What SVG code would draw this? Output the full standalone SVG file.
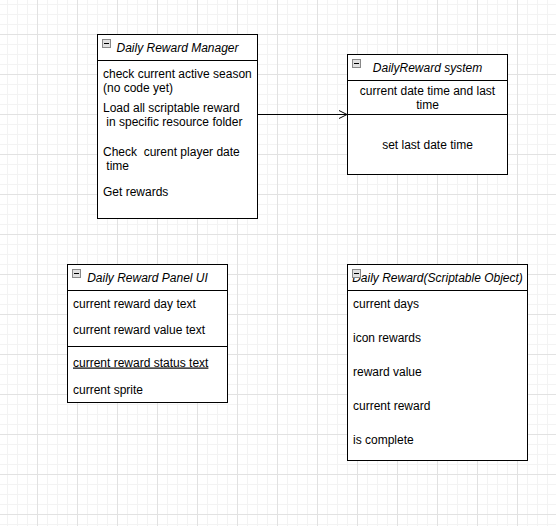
<svg xmlns="http://www.w3.org/2000/svg" width="556" height="526" viewBox="0 0 556 526">
<defs>
<pattern id="minor" patternUnits="userSpaceOnUse" x="7" y="4" width="10" height="10">
<rect x="0" y="0" width="1" height="10" fill="#f3f3f3"/>
<rect x="0" y="0" width="10" height="1" fill="#f3f3f3"/>
</pattern>
<pattern id="major" patternUnits="userSpaceOnUse" x="37" y="34" width="40" height="40">
<rect x="0" y="0" width="1" height="40" fill="#e2e2e2"/>
<rect x="0" y="0" width="40" height="1" fill="#e2e2e2"/>
</pattern>
<marker id="open" markerUnits="userSpaceOnUse" markerWidth="12" markerHeight="12" refX="9" refY="5" orient="auto" viewBox="0 0 12 10">
<path d="M1,1 L9,5 L1,9" fill="none" stroke="#000" stroke-width="1"/>
</marker>
<g id="icon">
<rect x="0.5" y="0.5" width="8" height="8" fill="#e0e0e0" stroke="#888"/>
<line x1="2" y1="4.5" x2="7" y2="4.5" stroke="#000" stroke-width="1"/>
</g>
</defs>
<style>
.box{fill:#fff;stroke:#000;stroke-width:1}
.div{stroke:#000;stroke-width:1}
text{font-family:"Liberation Sans",Arial,sans-serif;font-size:12px;fill:#000}
.hd{font-style:italic;text-anchor:middle}
.c{text-anchor:middle}
</style>
<rect width="556" height="526" fill="#fff"/>
<rect width="556" height="526" fill="url(#minor)"/>
<rect width="556" height="526" fill="url(#major)"/>

<g id="connectors">
<line x1="257.5" y1="114.5" x2="347" y2="114.5" stroke="#000" stroke-width="1" marker-end="url(#open)"/>
</g>

<g id="manager">
<rect class="box" x="97.5" y="34.5" width="160" height="184"/>
<line class="div" x1="97.5" y1="60.5" x2="257.5" y2="60.5"/>
<use href="#icon" x="102" y="39"/>
<text class="hd" x="177.5" y="51.5">Daily Reward Manager</text>
<text x="103" y="77.5" xml:space="preserve">check current active season</text>
<text x="103" y="91.5" xml:space="preserve">(no code yet)</text>
<text x="103" y="112" xml:space="preserve">Load all scriptable reward</text>
<text x="103" y="126" xml:space="preserve"> in specific resource folder</text>
<text x="103" y="156" xml:space="preserve">Check  curent player date</text>
<text x="103" y="170" xml:space="preserve"> time</text>
<text x="103" y="196" xml:space="preserve">Get rewards</text>
</g>

<g id="system">
<rect class="box" x="347.5" y="54.5" width="160" height="120"/>
<line class="div" x1="347.5" y1="80.5" x2="507.5" y2="80.5"/>
<line class="div" x1="347.5" y1="114.5" x2="507.5" y2="114.5"/>
<use href="#icon" x="352" y="59"/>
<text class="hd" x="427.5" y="71.5">DailyReward system</text>
<text class="c" x="427.5" y="94.5">current date time and last</text>
<text class="c" x="427.5" y="108.5">time</text>
<text class="c" x="427.5" y="149">set last date time</text>
</g>

<g id="panel">
<rect class="box" x="67.5" y="264.5" width="160" height="138"/>
<line class="div" x1="67.5" y1="290.5" x2="227.5" y2="290.5"/>
<line class="div" x1="67.5" y1="346.5" x2="227.5" y2="346.5"/>
<use href="#icon" x="72" y="269"/>
<text class="hd" x="147.5" y="281.5">Daily Reward Panel UI</text>
<text x="73" y="307.5">current reward day text</text>
<text x="73" y="334">current reward value text</text>
<text x="73" y="366.5" text-decoration="underline">current reward status text</text>
<text x="73" y="393.5">current sprite</text>
</g>

<g id="scriptable">
<rect class="box" x="347.5" y="264.5" width="180" height="196"/>
<line class="div" x1="347.5" y1="290.5" x2="527.5" y2="290.5"/>
<text class="hd" x="437.5" y="281.5">Daily Reward(Scriptable Object)</text>
<use href="#icon" x="352" y="269"/>
<text x="353" y="307.5">current days</text>
<text x="353" y="341.5">icon rewards</text>
<text x="353" y="375.5">reward value</text>
<text x="353" y="409.5">current reward</text>
<text x="353" y="443.5">is complete</text>
</g>
</svg>
